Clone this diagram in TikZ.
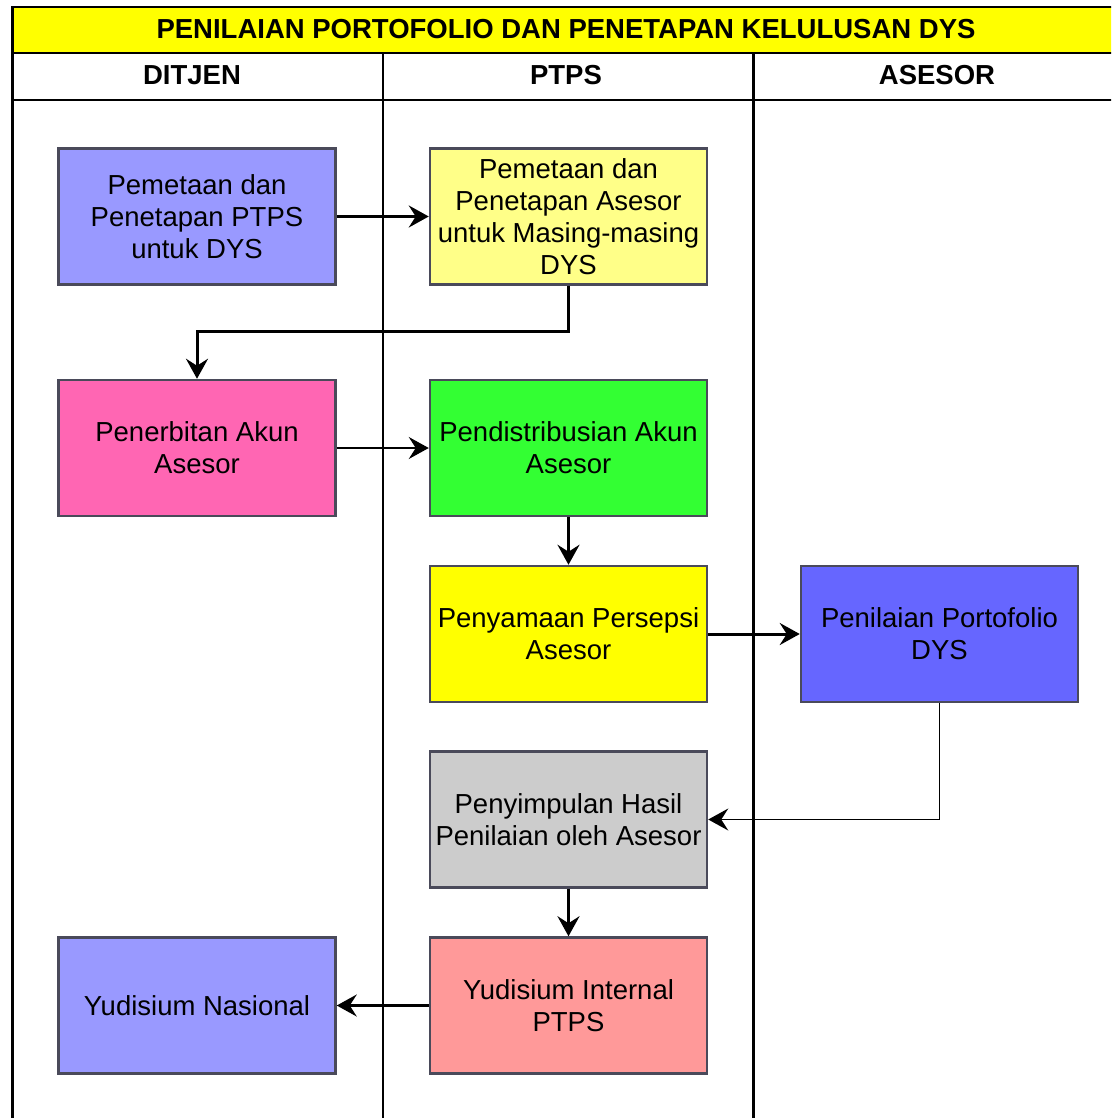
\documentclass[tikz,border=0pt]{standalone}
\usepackage{fontspec}
\setmainfont{Liberation Sans}
\usetikzlibrary{arrows.meta}
\definecolor{cperi}{HTML}{9999FF}
\definecolor{cltyel}{HTML}{FFFF88}
\definecolor{cpink}{HTML}{FF66B3}
\definecolor{cgreen}{HTML}{33FF33}
\definecolor{cyel}{HTML}{FFFF00}
\definecolor{cblue}{HTML}{6666FF}
\definecolor{cgrey}{HTML}{CCCCCC}
\definecolor{csalmon}{HTML}{FF9999}
\definecolor{cborder}{HTML}{4A4A5A}
\begin{document}
\begin{tikzpicture}[x=1pt,y=-1pt,
  box/.style={draw=cborder, line width=2.5pt, minimum width=277pt, minimum height=136pt,
    align=center, inner sep=0pt, font=\fontsize{27.5}{32}\selectfont},
  hdr/.style={font=\bfseries\fontsize{27.5}{30}\selectfont},
  thk/.style={line width=3pt, -{Stealth[length=20pt,width=22pt,inset=7pt]}},
  thn/.style={line width=1.5pt, -{Stealth[length=20pt,width=22pt,inset=7pt]}}
]
\useasboundingbox (0,0) rectangle (1111,1118);
\clip (0,0) rectangle (1111,1118);
\fill[white] (0,0) rectangle (1111,1118);
% title
\draw[fill=cyel, line width=2.5pt] (12,7) rectangle (1122,53);
\node[hdr] (title) at (566,29) {PENILAIAN PORTOFOLIO DAN PENETAPAN KELULUSAN DYS};
% header row
\draw[line width=2pt] (12,100) -- (1122,100);
\draw[line width=3pt] (12,7) -- (12,1125);
\draw[line width=1.5pt] (383,53) -- (383,1125);
\draw[line width=3pt] (753,53) -- (753,1125);
\node[hdr] (h1) at (192,75) {DITJEN};
\node[hdr] (h2) at (566,75) {PTPS};
\node[hdr] (h3) at (937,75) {ASESOR};
% boxes
\node[box, fill=cperi] (b1) at (197,216.5) {Pemetaan dan\\Penetapan PTPS\\untuk DYS};
\node[box, fill=cltyel] (b2) at (568.5,216.5) {Pemetaan dan\\Penetapan Asesor\\untuk Masing-masing\\DYS};
\node[box, fill=cpink] (b3) at (197,448) {Penerbitan Akun\\Asesor};
\node[box, fill=cgreen] (b4) at (568.5,448) {Pendistribusian Akun\\Asesor};
\node[box, fill=cyel] (b5) at (568.5,634) {Penyamaan Persepsi\\Asesor};
\node[box, fill=cblue] (b6) at (939.5,634) {Penilaian Portofolio\\DYS};
\node[box, fill=cgrey] (b7) at (568.5,819.5) {Penyimpulan Hasil\\Penilaian oleh Asesor};
\node[box, fill=csalmon] (b8) at (568.5,1005.5) {Yudisium Internal\\PTPS};
\node[box, fill=cperi] (b9) at (197,1005.5) {Yudisium Nasional};
% connectors
\draw[thk] (b1.east) -- (b2.west);
\draw[thk] (b2.south) -- ++(0,46) -| (b3.north);
\draw[thn] (b3.east) -- (b4.west);
\draw[thk] (b4.south) -- (b5.north);
\draw[thk] (b5.east) -- (b6.west);
\draw[thn] (b6.south) |- (b7.east);
\draw[thk] (b7.south) -- (b8.north);
\draw[line width=2.5pt, -{Stealth[length=20pt,width=22pt,inset=7pt]}] (b8.west) -- (b9.east);
\end{tikzpicture}
\end{document}
